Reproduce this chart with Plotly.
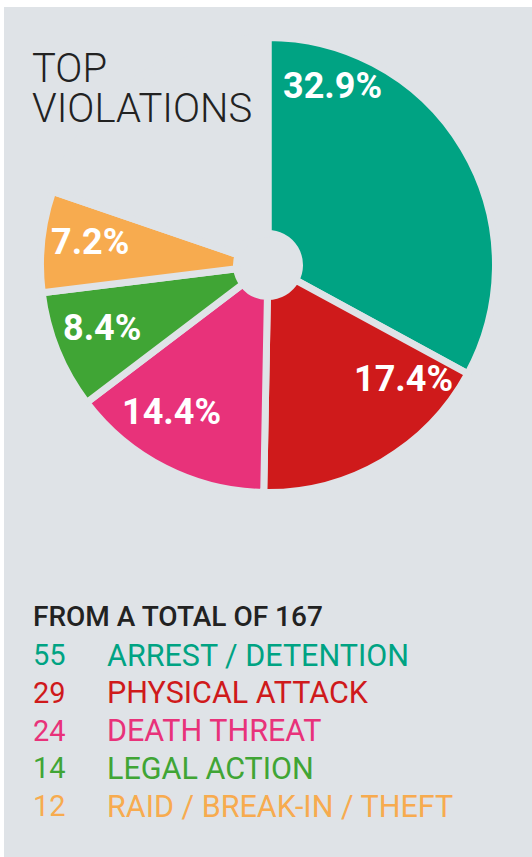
import numpy as np
import plotly.graph_objects as go

# data
categories = ["ARREST / DETENTION", "PHYSICAL ATTACK", "DEATH THREAT", "LEGAL ACTION", "RAID / BREAK-IN / THEFT"]
counts = [55, 29, 24, 14, 12]
total = 167
colors = ["#00A383", "#CF1A1B", "#E8327A", "#40A535", "#F7AB4F"]
title_lines = ["TOP", "VIOLATIONS"]

W, H = 532, 857
BG = "#DFE3E7"
cx, cy, R = 268, 265, 224      # pie centre / visible radius in px
GAP = 7                         # gap between slices
label_frac = [0.17, 0.2, 0.61, 0.5, 0.5]   # where along each slice its % sits
label_r = [0.83, 0.80, 0.80, 0.80, 0.80]

def px(x):
    return x / W

def py(y):
    return 1 - y / H

rest = total - sum(counts)
Rd = R + GAP / 2

fig = go.Figure()
fig.add_trace(go.Pie(
    values=counts + [rest],
    labels=categories + ["other"],
    marker=dict(colors=colors + ["rgba(0,0,0,0)"], line=dict(color=BG, width=GAP)),
    sort=False, direction="clockwise", rotation=0,
    hole=(35 - GAP / 2) / Rd,
    textinfo="none", hoverinfo="skip", showlegend=False,
    domain=dict(x=[px(cx - Rd), px(cx + Rd)], y=[py(cy + Rd), py(cy - Rd)]),
))

def note(x, y, text, size, color, weight=400, xanchor="left"):
    return dict(x=px(x), y=py(y), xref="paper", yref="paper", showarrow=False,
                xanchor=xanchor, yanchor="middle", text=text,
                font=dict(family="Roboto", size=size, color=color, weight=weight))

ann = []
# percentage labels inside the slices
start = 0.0
for i, c in enumerate(counts):
    span = c / total * 360
    th = np.radians(start + label_frac[i] * span)
    x = cx + label_r[i] * R * np.sin(th)
    y = cy - label_r[i] * R * np.cos(th) - 4
    ann.append(note(x, y, f"{c / total * 100:.1f}%", 36, "white", 700, "center"))
    start += span

# title
for i, t in enumerate(title_lines):
    ann.append(note(30, 68 + i * 40, t, 40, "#222222", 300))

# totals list
ann.append(note(31, 616, f"FROM A TOTAL OF {total}", 28, "#222222", 500))
for i, (cat, c) in enumerate(zip(categories, counts)):
    yy = 655 + i * 37.8
    ann.append(note(31, yy, str(c), 29, colors[i]))
    ann.append(note(105, yy, cat, 30.5, colors[i]))

fig.update_layout(
    width=W, height=H,
    margin=dict(l=0, r=0, t=0, b=0),
    paper_bgcolor="white",
    shapes=[dict(type="rect", xref="paper", yref="paper", x0=px(4), x1=1, y0=0, y1=py(7),
                 fillcolor=BG, line=dict(width=0), layer="below")],
    annotations=ann,
)

fig.write_html("out.html", config={"displayModeBar": False})

# drop the browser's default body margin
with open("out.html") as f:
    page = f.read()
page = page.replace("<body>", '<body style="margin:0">', 1)
with open("out.html", "w") as f:
    f.write(page)
